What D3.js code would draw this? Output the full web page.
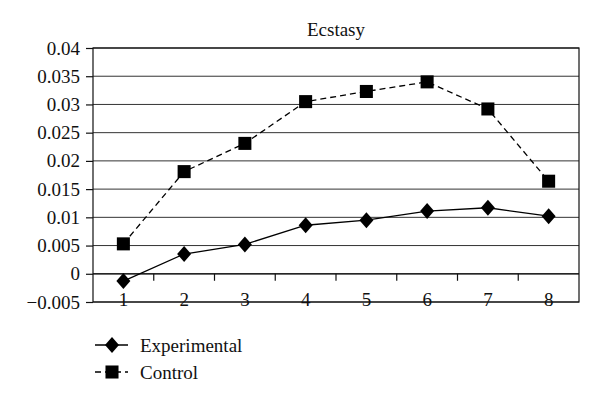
<!DOCTYPE html>
<html>
<head>
<meta charset="utf-8">
<script src="https://cdn.jsdelivr.net/npm/d3@7"></script>
<style>
  body { margin: 0; background: #fff; }
</style>
</head>
<body>
<div id="chart"></div>
<script>
const categories = ["1", "2", "3", "4", "5", "6", "7", "8"];
const experimental = [-0.0013, 0.0035, 0.0052, 0.0086, 0.0095, 0.0111, 0.0117, 0.0102];
const control = [0.0053, 0.0181, 0.0231, 0.0305, 0.0323, 0.0340, 0.0292, 0.0164];
const yTicks = [-0.005, 0, 0.005, 0.01, 0.015, 0.02, 0.025, 0.03, 0.035, 0.04];
const seriesNames = ["Experimental", "Control"];

const FONT = "'Liberation Serif', 'DejaVu Serif', serif";
const FS = "19px";

const margin = { top: 48, right: 21, bottom: 100, left: 93 };
const width = 600 - margin.left - margin.right;
const height = 402 - margin.top - margin.bottom;

const svg = d3.select("#chart")
    .append("svg")
    .attr("width", 600)
    .attr("height", 402)
    .append("g")
    .attr("transform", `translate(${margin.left},${margin.top})`);

const x = d3.scaleBand()
    .domain(categories)
    .range([0, width]);

const y = d3.scaleLinear()
    .domain([-0.005, 0.04])
    .range([height, 0]);

// gridlines
svg.append("g")
    .selectAll("line")
    .data(yTicks)
    .enter()
    .append("line")
    .attr("x1", 0)
    .attr("x2", width)
    .attr("y1", d => y(d))
    .attr("y2", d => y(d))
    .attr("stroke", "#333")
    .attr("stroke-width", 1);

// frame
svg.append("rect")
    .attr("x", 0)
    .attr("y", 0)
    .attr("width", width)
    .attr("height", height)
    .attr("fill", "none")
    .attr("stroke", "#111")
    .attr("stroke-width", 1.2);

// y axis
const fmt = d => d === 0 ? "0" : d3.format("~g")(d);
const yAxis = svg.append("g")
    .call(d3.axisLeft(y).tickValues(yTicks).tickSize(7).tickPadding(6).tickFormat(fmt));
yAxis.attr("font-family", null).attr("font-size", null);
yAxis.select(".domain").remove();
yAxis.selectAll("line").attr("stroke", "#111").attr("stroke-width", 1.2);
yAxis.selectAll("text")
    .style("font-family", FONT)
    .style("font-size", FS)
    .attr("fill", "#111");

// x axis line at zero
svg.append("line")
    .attr("x1", 0)
    .attr("x2", width)
    .attr("y1", y(0))
    .attr("y2", y(0))
    .attr("stroke", "#111")
    .attr("stroke-width", 1.2);

// boundary tick marks
svg.append("g")
    .selectAll("line")
    .data(categories.slice(1))
    .enter()
    .append("line")
    .attr("x1", d => x(d))
    .attr("x2", d => x(d))
    .attr("y1", y(0))
    .attr("y2", y(0) + 7)
    .attr("stroke", "#111")
    .attr("stroke-width", 1.2);

const cx = d => x(d) + x.bandwidth() / 2;

// category labels (sit on the bottom frame line, like the original)
svg.append("g")
    .selectAll("text")
    .data(categories)
    .enter()
    .append("text")
    .attr("x", d => cx(d))
    .attr("y", height + 4)
    .attr("text-anchor", "middle")
    .style("font-family", FONT)
    .style("font-size", FS)
    .attr("fill", "#111")
    .text(d => d);

const line = d3.line()
    .x((d, i) => cx(categories[i]))
    .y(d => y(d));

svg.append("path")
    .datum(control)
    .attr("d", line)
    .attr("fill", "none")
    .attr("stroke", "#000")
    .attr("stroke-width", 1.3)
    .attr("stroke-dasharray", "6,4");

svg.append("path")
    .datum(experimental)
    .attr("d", line)
    .attr("fill", "none")
    .attr("stroke", "#000")
    .attr("stroke-width", 1.3);

const square = d3.symbol().type(d3.symbolSquare).size(170);
const diamond = "M0,-8L7,0L0,8L-7,0Z";

svg.append("g")
    .selectAll("path")
    .data(control)
    .enter()
    .append("path")
    .attr("d", square)
    .attr("transform", (d, i) => `translate(${cx(categories[i])},${y(d)})`)
    .attr("fill", "#000");

svg.append("g")
    .selectAll("path")
    .data(experimental)
    .enter()
    .append("path")
    .attr("d", diamond)
    .attr("transform", (d, i) => `translate(${cx(categories[i])},${y(d)})`)
    .attr("fill", "#000");

// title
svg.append("text")
    .attr("x", width / 2)
    .attr("y", -12)
    .attr("text-anchor", "middle")
    .style("font-family", FONT)
    .style("font-size", FS)
    .attr("fill", "#111")
    .text("Ecstasy");

// legend
const legend = svg.append("g")
    .attr("transform", `translate(${95 - margin.left},${345 - margin.top})`);

seriesNames.forEach((name, i) => {
    const g = legend.append("g").attr("transform", `translate(0,${i * 27})`);
    g.append("line")
        .attr("x1", 0)
        .attr("x2", 33)
        .attr("y1", 0)
        .attr("y2", 0)
        .attr("stroke", "#000")
        .attr("stroke-width", 1.3)
        .attr("stroke-dasharray", i === 1 ? "6,4" : null);
    g.append("path")
        .attr("d", i === 0 ? diamond : square)
        .attr("transform", "translate(17,0)")
        .attr("fill", "#000");
    g.append("text")
        .attr("x", 45)
        .attr("y", 0)
        .attr("dy", "0.35em")
        .style("font-family", FONT)
        .style("font-size", FS)
        .attr("fill", "#111")
        .text(name);
});
</script>
</body>
</html>
